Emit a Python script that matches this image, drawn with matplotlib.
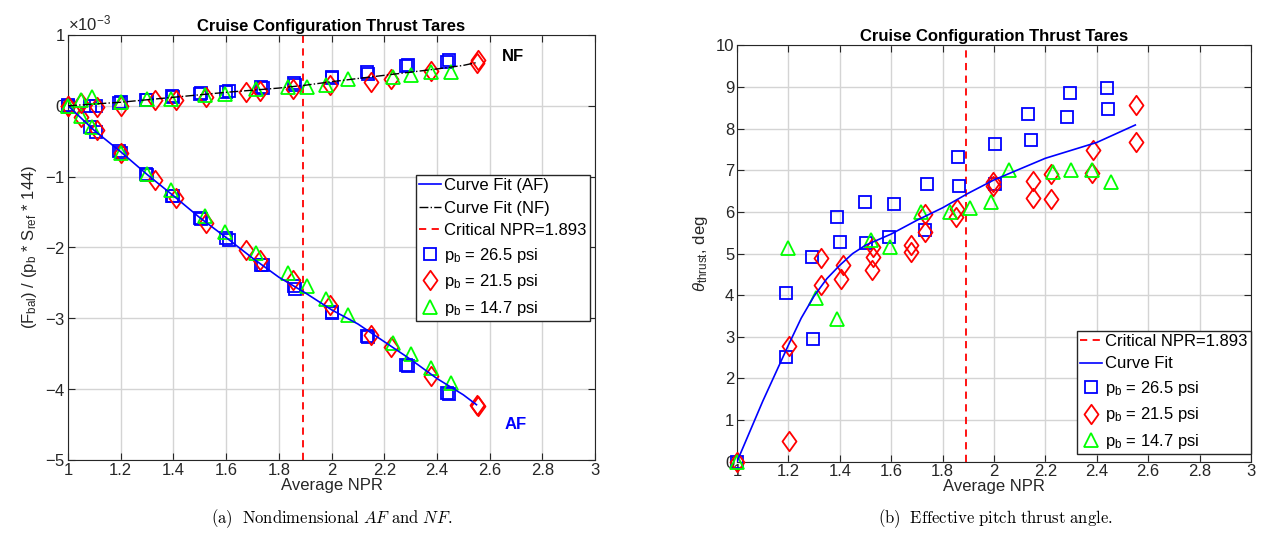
import numpy as np
import matplotlib
matplotlib.use('Agg')
import matplotlib.pyplot as plt
from matplotlib.path import Path
from matplotlib.ticker import ScalarFormatter, FuncFormatter

plt.rcParams['font.family'] = ['Liberation Sans', 'DejaVu Sans']
plt.rcParams['mathtext.fontset'] = 'custom'
plt.rcParams['mathtext.rm'] = 'Liberation Sans'
plt.rcParams['mathtext.it'] = 'Liberation Sans:italic'
plt.rcParams['axes.unicode_minus'] = False
plt.rcParams['font.size'] = 12

NPR_CRITICO = 1.893

# --- Fuerzas adimensionales (x 1e-3) ---
npr_26 = [1.0, 1.0, 1.085, 1.105, 1.194, 1.2, 1.295, 1.30, 1.396, 1.40, 1.5, 1.505, 1.601, 1.61,
          1.734, 1.738, 1.858, 1.862, 2.0, 2.003, 2.135, 2.14, 2.284, 2.29, 2.44, 2.445]
af_26 = [0, 0, -0.30, -0.377, -0.645, -0.66, -0.965, -0.975, -1.27, -1.28, -1.586, -1.60, -1.87, -1.89,
         -2.245, -2.25, -2.55, -2.58, -2.905, -2.92, -3.25, -3.27, -3.66, -3.67, -4.05, -4.07]
nf_26 = [0, 0.01, 0.0, 0.0, 0.04, 0.05, 0.075, 0.08, 0.14, 0.13, 0.17, 0.18, 0.20, 0.21,
         0.26, 0.25, 0.32, 0.30, 0.405, 0.39, 0.47, 0.45, 0.555, 0.58, 0.625, 0.64]

npr_21 = [1.0, 1.05, 1.11, 1.2, 1.329, 1.41, 1.525, 1.677, 1.728, 1.854, 1.993, 2.148, 2.225, 2.377, 2.552, 2.555]
af_21 = [0, -0.16, -0.34, -0.67, -1.045, -1.30, -1.65, -2.03, -2.17, -2.46, -2.81, -3.23, -3.41, -3.82, -4.22, -4.24]
nf_21 = [0, 0.04, -0.02, -0.01, 0.085, 0.085, 0.12, 0.20, 0.21, 0.24, 0.30, 0.33, 0.377, 0.485, 0.61, 0.64]

npr_14 = [1.0, 1.05, 1.09, 1.2, 1.30, 1.39, 1.52, 1.595, 1.715, 1.835, 1.907, 1.98, 2.063, 2.233, 2.30, 2.377, 2.452]
af_14 = [0, -0.15, -0.30, -0.66, -0.97, -1.19, -1.55, -1.775, -2.08, -2.36, -2.55, -2.73, -2.95, -3.35, -3.50, -3.70, -3.91]
nf_14 = [0, 0.085, 0.12, 0.06, 0.09, 0.09, 0.15, 0.17, 0.23, 0.27, 0.27, 0.30, 0.377, 0.41, 0.44, 0.47, 0.47]

npr_ajuste_f = [1.0, 1.1, 1.2, 1.3, 1.4, 1.5, 1.6, 1.7, 1.8, 1.9, 2.0, 2.1, 2.2, 2.3, 2.4, 2.5, 2.55]
af_ajuste = [0, -0.35, -0.65, -0.97, -1.27, -1.58, -1.86, -2.15, -2.42, -2.64, -2.88, -3.08, -3.33, -3.58, -3.85, -4.08, -4.22]
nf_ajuste = [0, 0.025, 0.05, 0.085, 0.12, 0.155, 0.19, 0.22, 0.25, 0.29, 0.34, 0.385, 0.43, 0.475, 0.52, 0.57, 0.61]

# --- Angulo de empuje efectivo (deg) ---
npr_th_26 = [1.0, 1.192, 1.192, 1.292, 1.296, 1.39, 1.40, 1.497, 1.503, 1.61, 1.591, 1.738, 1.73,
             1.864, 1.86, 2.003, 2.003, 2.132, 2.143, 2.295, 2.284, 2.44, 2.444]
th_26 = [0, 4.05, 2.51, 4.91, 2.94, 5.87, 5.28, 6.23, 5.25, 6.18, 5.39, 6.66, 5.57,
         6.63, 7.32, 6.68, 7.64, 8.36, 7.72, 8.86, 8.28, 8.98, 8.47]
npr_th_21 = [1.0, 1.202, 1.202, 1.326, 1.325, 1.412, 1.406, 1.529, 1.529, 1.527, 1.676, 1.676, 1.73,
             1.73, 1.856, 1.854, 1.996, 1.996, 2.152, 2.152, 2.223, 2.223, 2.385, 2.383, 2.554, 2.554]
th_21 = [0, 2.78, 0.505, 4.90, 4.24, 4.73, 4.38, 5.15, 4.91, 4.61, 5.21, 5.03, 5.95,
         5.51, 6.07, 5.89, 6.73, 6.63, 6.75, 6.33, 6.92, 6.31, 7.49, 6.93, 8.56, 7.69]
npr_th_14 = [1.0, 1.198, 1.309, 1.39, 1.523, 1.597, 1.715, 1.83, 1.905, 1.987, 2.06, 2.23, 2.298, 2.383, 2.457]
th_14 = [0, 5.14, 3.94, 3.43, 5.33, 5.15, 6.01, 5.99, 6.09, 6.24, 7.0, 6.95, 7.0, 7.01, 6.71]

npr_ajuste_th = [1.0, 1.1, 1.2, 1.25, 1.3, 1.35, 1.4, 1.45, 1.5, 1.6, 1.7, 1.8, 1.9, 2.0,
                 2.1, 2.2, 2.3, 2.4, 2.5, 2.55]
th_ajuste = [0, 1.45, 2.80, 3.45, 3.98, 4.40, 4.72, 5.00, 5.20, 5.47, 5.80, 6.10, 6.45, 6.77,
             7.03, 7.29, 7.48, 7.67, 7.95, 8.09]

# rombo estilo MATLAB (algo mas estrecho que alto)
rombo = Path([(0, 1), (0.72, 0), (0, -1), (-0.72, 0), (0, 1)],
             [Path.MOVETO, Path.LINETO, Path.LINETO, Path.LINETO, Path.CLOSEPOLY])

series = [
    ('p$_{\\rm b}$ = 26.5 psi', 's', 'blue', 8.5),
    ('p$_{\\rm b}$ = 21.5 psi', rombo, 'red', 14.0),
    ('p$_{\\rm b}$ = 14.7 psi', '^', 'lime', 10.0),
]

GRIS_REJILLA = '#d4d4d4'


def formato_ejes(ax):
    ax.grid(True, color=GRIS_REJILLA, linewidth=1.0)
    ax.set_axisbelow(True)
    ax.tick_params(direction='in', top=True, right=True, length=5, width=0.8, pad=2,
                   colors='#262626', labelsize=12, labelcolor='#262626')
    for s in ax.spines.values():
        s.set_color('#262626')
        s.set_linewidth(0.8)
    ax.set_xlim(1, 3)
    ax.set_xticks(np.arange(1, 3.01, 0.2))
    ax.xaxis.set_major_formatter(FuncFormatter(lambda v, p: '%g' % round(v, 2)))
    ax.set_xlabel('Average NPR', fontsize=12, color='#262626', labelpad=0)
    ax.set_title('Cruise Configuration Thrust Tares', fontsize=12, fontweight='bold', pad=3)


def marcadores(ax, datos, con_etiqueta=True):
    for (etiqueta, m, c, ms), (x, y) in zip(series, datos):
        ax.plot(x, y, linestyle='none', marker=m, markersize=ms, markerfacecolor='none',
                markeredgecolor=c, markeredgewidth=1.3, clip_on=False, zorder=3,
                label=etiqueta if con_etiqueta else None)


def leyenda(ax, ancla):
    ax.legend(loc='upper left', bbox_to_anchor=ancla, borderaxespad=0, fontsize=12,
              fancybox=False, framealpha=1, edgecolor='#262626', handlelength=1.3,
              handletextpad=0.2, labelspacing=0.45, borderpad=0.2)


fig = plt.figure(figsize=(12.65, 5.52), dpi=100)
ax1 = fig.add_axes([0.0538, 0.1667, 0.4166, 0.770])
ax2 = fig.add_axes([0.5826, 0.1636, 0.4063, 0.754])

# Grafica (a): AF y NF
escala = 1e-3
ax1.plot(npr_ajuste_f, np.array(af_ajuste) * escala, color='blue', lw=1.2, label='Curve Fit (AF)', zorder=4)
ax1.plot(npr_ajuste_f, np.array(nf_ajuste) * escala, color='black', lw=1.0, linestyle='-.',
         label='Curve Fit (NF)', zorder=4)
ax1.axvline(NPR_CRITICO, color='red', lw=1.3, linestyle=(0, (4, 3)), label='Critical NPR=1.893')
marcadores(ax1, [(npr_26, np.array(af_26) * escala), (npr_21, np.array(af_21) * escala),
                 (npr_14, np.array(af_14) * escala)])
marcadores(ax1, [(npr_26, np.array(nf_26) * escala), (npr_21, np.array(nf_21) * escala),
                 (npr_14, np.array(nf_14) * escala)], con_etiqueta=False)
formato_ejes(ax1)
ax1.set_ylim(-5e-3, 1e-3)
ax1.set_yticks(np.arange(-5, 1.01, 1) * escala)
fmt = ScalarFormatter(useMathText=True)
fmt.set_powerlimits((-2, 2))
ax1.yaxis.set_major_formatter(fmt)
ax1.yaxis.get_offset_text().set_fontsize(12)
ax1.yaxis.get_offset_text().set_color('#262626')
ax1.set_ylabel('(F$_{\\rm bal}$) / (p$_{\\rm b}$ * S$_{\\rm ref}$ * 144)', fontsize=12, color='#262626')
ax1.text(2.69, 0.70e-3, 'NF', fontsize=12, fontweight='bold', ha='center', va='center')
ax1.text(2.70, -4.5e-3, 'AF', fontsize=12, fontweight='bold', color='blue', ha='center', va='center')
leyenda(ax1, (0.66, 0.671))

# Grafica (b): angulo de empuje
ax2.axvline(NPR_CRITICO, color='red', lw=1.3, linestyle=(0, (4, 3)), label='Critical NPR=1.893')
ax2.plot(npr_ajuste_th, th_ajuste, color='blue', lw=1.2, label='Curve Fit', zorder=4)
marcadores(ax2, [(npr_th_26, th_26), (npr_th_21, th_21), (npr_th_14, th_14)])
formato_ejes(ax2)
ax2.set_ylim(0, 10)
ax2.set_yticks(range(0, 11))
ax2.set_ylabel('$\\theta_{\\rm thrust}$, deg', fontsize=12, color='#262626')
leyenda(ax2, (0.661, 0.315))

fig.text(0.2625, 0.06, r'$\mathrm{(a)\ \ Nondimensional\ }AF\mathrm{\ and\ }NF\mathrm{.}$',
         ha='center', va='center', fontsize=12, math_fontfamily='cm')
fig.text(0.7866, 0.06, r'$\mathrm{(b)\ \ Effective\ pitch\ thrust\ angle.}$',
         ha='center', va='center', fontsize=12, math_fontfamily='cm')

fig.savefig('out.png', dpi=100)
